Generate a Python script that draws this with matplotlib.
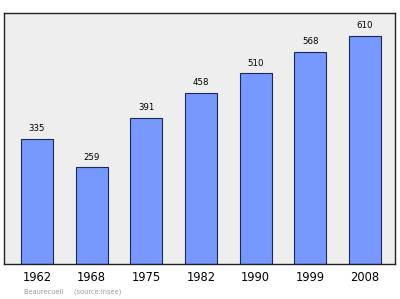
import matplotlib
matplotlib.use("Agg")
import matplotlib.pyplot as plt

years = ["1962", "1968", "1975", "1982", "1990", "1999", "2008"]
population = [335, 259, 391, 458, 510, 568, 610]

fig = plt.figure(figsize=(4.0, 2.99), dpi=100)
ax = fig.add_axes([4 / 400, 1 - 264 / 299, 391 / 400, 251 / 299])
ax.set_facecolor("#eeeeee")

x = list(range(len(years)))
ax.bar(x, population, width=0.585, color="#7799ff", edgecolor="#1a2a55", linewidth=0.8)
for xi, v in zip(x, population):
    ax.annotate(str(v), (xi, v), xytext=(0, 4), textcoords="offset points",
                ha="center", va="bottom", fontsize=6.2, color="black")

ax.set_xlim(-0.603, 6.549)
ax.set_ylim(0, 671)
ax.set_xticks(x)
ax.set_xticklabels(years, fontsize=8.3)
ax.tick_params(axis="x", length=0, pad=5)
ax.set_yticks([])
for s in ax.spines.values():
    s.set_color("#222222")
    s.set_linewidth(1)

fig.text(24 / 400, 1 - 292 / 299, "Beaurecueil     (source:Insee)", fontsize=4.8,
         color="#999999", va="center", ha="left")

fig.savefig("out.png", dpi=100)
